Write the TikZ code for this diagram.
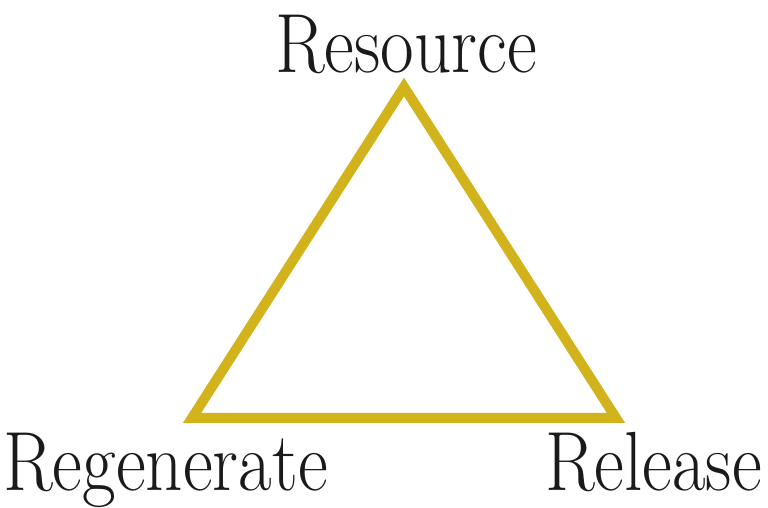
\documentclass[tikz,border=0pt]{standalone}
\usepackage{fontspec}
\usepackage{tikz}
\usetikzlibrary{positioning}
\definecolor{cyclegold}{HTML}{D3B31B}
\definecolor{inkdark}{HTML}{1A1A1A}
\tikzset{
  phase/.style={font=\fontsize{84}{86}\selectfont,text=inkdark,inner sep=0pt,xscale=0.87},
  cycleline/.style={draw=cyclegold,line width=10pt,line join=miter},
}
\begin{document}
\begin{tikzpicture}[x=1pt,y=1pt]
  \useasboundingbox (0,0) rectangle (768,508);
  \coordinate (top) at (404,421);
  \coordinate (left) at (192,90);
  \coordinate (right) at (616,90);
  \draw[cycleline] (top) -- (left) -- (right) -- cycle;
  \node[phase,anchor=base] (resource) at (406,435) {Resource};
  \node[phase,anchor=base west] (regenerate) at (3,17) {Regenerate};
  \node[phase,anchor=base east] (release) at (762,17) {Release};
\end{tikzpicture}
\end{document}
